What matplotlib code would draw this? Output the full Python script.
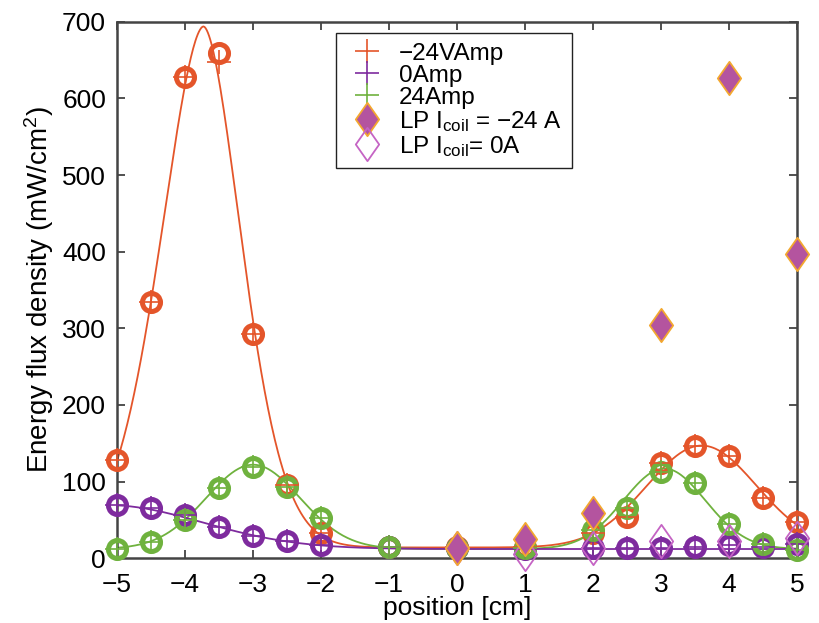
import numpy as np
import matplotlib
matplotlib.use('Agg')
import matplotlib.pyplot as plt
from matplotlib.lines import Line2D
from matplotlib.path import Path

plt.rcParams['font.family'] = ['Liberation Sans', 'DejaVu Sans']
plt.rcParams['mathtext.default'] = 'regular'
plt.rcParams['font.size'] = 19

# measured points (position in cm, energy flux density in mW/cm^2)
pos = [-5, -4.5, -4, -3.5, -3, -2.5, -2, -1, 0, 1, 2, 2.5, 3, 3.5, 4, 4.5, 5]
neg24 = [128, 335, 628, 659, 292, 96, 33, 15, 14, 14, 33, 54, 124, 146, 133, 78, 47]
neg24_plus = [128, 335, 628, 647, 292, 96, 33, 15, 14, 14, 33, 54, 124, 146, 133, 78, 47]
zero = [69, 65, 57, 41, 29, 22, 17, 14, 13, 12, 13, 13, 13, 14, 17, 14, 19]
pos24 = [12, 21, 50, 91, 119, 93, 52, 15, 13, 13, 37, 65, 113, 98, 44, 19, 11]

# Langmuir probe points
lp_pos = [0, 1, 2, 3, 4, 5]
lp_neg24 = [13, 25, 59, 304, 627, 397]
lp_zero = [13, 6, 13, 23, 22, 27]

# fit curves: baseline + peaks (amplitude, centre, left width, right width, exponent)
neg24_base = 14
neg24_peaks = [(680, -3.73, 0.91, 0.81, 1.75), (133, 3.6, 1.14, 1.14, 2)]
zero_base = 12
zero_peaks = [(57.4, -5.16, 2.0, 2.0, 2)]
pos24_base = 12
pos24_peaks = [(110, -3.0, 0.975, 0.975, 2), (105, 3.05, 0.85, 0.85, 2)]

c_red = '#e4552a'
c_pur = '#7e2b9e'
c_grn = '#6fb23e'
c_dia = '#b4549f'
c_dia_edge = '#f3a82f'
c_open = '#c564c4'


def fit_curve(x, base, peaks):
    y = np.full_like(x, base, dtype=float)
    for amp, cen, wl, wr, p in peaks:
        w = np.where(x < cen, wl, wr)
        y += amp * np.exp(-(np.abs(x - cen) / w) ** p)
    return y


diamond = Path([(0, 1), (0.7, 0), (0, -1), (-0.7, 0), (0, 1)],
               [Path.MOVETO, Path.LINETO, Path.LINETO, Path.LINETO, Path.CLOSEPOLY])

fig = plt.figure(figsize=(8.19, 6.23), dpi=100)
ax = fig.add_axes([0.143, 0.104, 0.830, 0.861])

xs = np.linspace(-5, 5, 600)
ax.plot(xs, fit_curve(xs, neg24_base, neg24_peaks), color=c_red, lw=1.3, zorder=2)
ax.plot(xs, fit_curve(xs, pos24_base, pos24_peaks), color=c_grn, lw=1.3, zorder=2)
ax.plot(xs, fit_curve(xs, zero_base, zero_peaks), color=c_pur, lw=1.3, zorder=2)

for yv, yp, col in [(neg24, neg24_plus, c_red), (zero, zero, c_pur), (pos24, pos24, c_grn)]:
    ax.plot(pos, yv, 'o', ms=13, mfc='none', mec=col, mew=3.6, clip_on=False, zorder=3)
    ax.plot(pos, yp, '+', ms=17, mec=col, mew=1.2, clip_on=False, zorder=4)

ax.plot(lp_pos, lp_zero, ls='none', marker=diamond, ms=24, mfc='none', mec=c_open,
        mew=1.3, clip_on=False, zorder=5)
ax.plot(lp_pos, lp_neg24, ls='none', marker=diamond, ms=24, mfc=c_dia, mec=c_dia_edge,
        mew=1.3, clip_on=False, zorder=6)

ax.set_xlim(-5, 5)
ax.set_ylim(0, 700)
ax.set_xticks(range(-5, 6))
ax.set_yticks(range(0, 701, 100))
ax.tick_params(direction='in', length=6, width=1.2, top=True, right=True, color='#333333',
               labelsize=19)
ax.tick_params(axis='x', pad=11)
ax.tick_params(axis='y', pad=8)
for s in ax.spines.values():
    s.set_linewidth(1.8)
    s.set_color('#444444')

ax.set_xlabel('position [cm]', fontsize=19, labelpad=-1)
ax.set_ylabel('Energy flux density (mW/cm$^2$)', fontsize=20, labelpad=4)

handles = [
    Line2D([], [], ls='none', marker='+', ms=17, mew=1.2, color=c_red),
    Line2D([], [], ls='none', marker='+', ms=17, mew=1.2, color=c_pur),
    Line2D([], [], ls='none', marker='+', ms=17, mew=1.2, color=c_grn),
    Line2D([], [], ls='none', marker=diamond, ms=24, mfc=c_dia, mec=c_dia_edge, mew=1.3),
    Line2D([], [], ls='none', marker=diamond, ms=24, mfc='none', mec=c_open, mew=1.3),
]
labels = ['\u221224VAmp', '0Amp', '24Amp', 'LP I$_{coil}$ = \u221224 A', 'LP I$_{coil}$= 0A']
leg = ax.legend(handles, labels, loc='upper left', bbox_to_anchor=(0.322, 0.979),
                fontsize=17.5, frameon=True, fancybox=False, framealpha=1,
                edgecolor='#222222', handlelength=1.75, handletextpad=0.45,
                labelspacing=0.0, borderpad=0.4, borderaxespad=0)
leg.get_frame().set_linewidth(1.0)

fig.savefig('out.png', dpi=100)
